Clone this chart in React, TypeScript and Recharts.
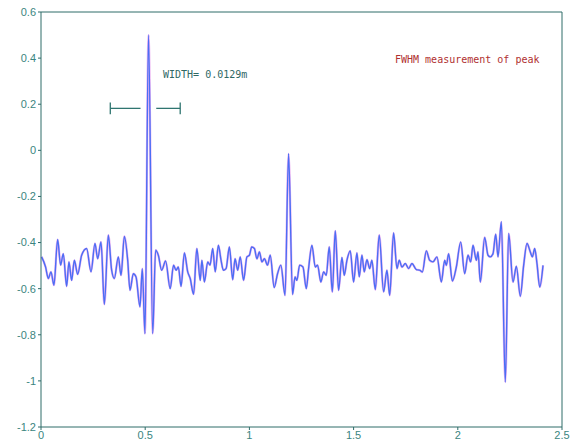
import React from 'react';
import { ComposedChart, Line, XAxis, YAxis, ReferenceLine } from 'recharts';

const xValues = [
  0.003, 0.022, 0.035, 0.048, 0.062, 0.080, 0.094, 0.107, 0.123, 0.134, 0.147, 0.160, 0.176, 0.195, 0.219, 0.240,
  0.259, 0.272, 0.288, 0.304, 0.323, 0.339, 0.352, 0.371, 0.384, 0.400, 0.416, 0.427, 0.443, 0.456, 0.475, 0.486,
  0.499, 0.516, 0.536, 0.550, 0.563, 0.579, 0.598, 0.620, 0.636, 0.648, 0.659, 0.672, 0.688, 0.704, 0.716, 0.732,
  0.748, 0.764, 0.772, 0.784, 0.800, 0.811, 0.824, 0.836, 0.851, 0.864, 0.875, 0.888, 0.904, 0.920, 0.931, 0.944,
  0.956, 0.972, 0.988, 1.000, 1.011, 1.024, 1.036, 1.048, 1.060, 1.072, 1.087, 1.100, 1.119, 1.135, 1.151, 1.171,
  1.188, 1.207, 1.219, 1.228, 1.241, 1.257, 1.273, 1.284, 1.300, 1.316, 1.327, 1.343, 1.356, 1.369, 1.383, 1.398,
  1.412, 1.428, 1.444, 1.455, 1.468, 1.484, 1.500, 1.516, 1.527, 1.540, 1.551, 1.564, 1.577, 1.588, 1.604, 1.623,
  1.644, 1.660, 1.673, 1.692, 1.708, 1.719, 1.732, 1.748, 1.764, 1.780, 1.801, 1.817, 1.830, 1.849, 1.865, 1.881,
  1.900, 1.921, 1.937, 1.945, 1.956, 1.974, 1.993, 2.014, 2.033, 2.049, 2.062, 2.073, 2.089, 2.097, 2.108, 2.129,
  2.145, 2.156, 2.169, 2.182, 2.193, 2.209, 2.228, 2.244, 2.265, 2.281, 2.300, 2.316, 2.332, 2.348, 2.358, 2.369,
  2.380, 2.393, 2.409,
];

const yValues = [
  -0.462, -0.506, -0.556, -0.527, -0.585, -0.387, -0.498, -0.448, -0.590, -0.484, -0.564, -0.477, -0.538, -0.455, -0.426, -0.527,
  -0.404, -0.470, -0.397, -0.668, -0.368, -0.520, -0.556, -0.462, -0.542, -0.373, -0.477, -0.607, -0.535, -0.549, -0.679, -0.513,
  -0.795, 0.500, -0.795, -0.433, -0.455, -0.520, -0.480, -0.600, -0.498, -0.520, -0.506, -0.590, -0.445, -0.527, -0.556, -0.624,
  -0.426, -0.564, -0.477, -0.571, -0.484, -0.498, -0.426, -0.527, -0.412, -0.477, -0.520, -0.513, -0.419, -0.561, -0.470, -0.520,
  -0.462, -0.564, -0.462, -0.455, -0.419, -0.426, -0.470, -0.441, -0.484, -0.470, -0.498, -0.455, -0.595, -0.535, -0.498, -0.629,
  -0.015, -0.625, -0.549, -0.564, -0.498, -0.506, -0.600, -0.513, -0.412, -0.506, -0.498, -0.571, -0.527, -0.542, -0.419, -0.614,
  -0.349, -0.607, -0.465, -0.542, -0.477, -0.436, -0.571, -0.445, -0.549, -0.455, -0.527, -0.474, -0.513, -0.477, -0.604, -0.368,
  -0.614, -0.520, -0.629, -0.358, -0.513, -0.477, -0.506, -0.491, -0.513, -0.491, -0.517, -0.520, -0.528, -0.436, -0.477, -0.484,
  -0.462, -0.571, -0.477, -0.499, -0.448, -0.567, -0.506, -0.397, -0.535, -0.455, -0.484, -0.412, -0.477, -0.441, -0.571, -0.378,
  -0.455, -0.462, -0.448, -0.364, -0.462, -0.310, -1.005, -0.361, -0.571, -0.503, -0.633, -0.499, -0.404, -0.441, -0.462, -0.426,
  -0.491, -0.593, -0.499,
];

const xTicks = [0, 0.5, 1, 1.5, 2, 2.5];
const yTicks = [-1.2, -1, -0.8, -0.6, -0.4, -0.2, 0, 0.2, 0.4, 0.6];
const xDomain: [number, number] = [0, 2.5];
const yDomain: [number, number] = [-1.2, 0.6];

// FWHM width marker (data coordinates)
const markerY = 0.182;
const markerCapHalf = 0.025;
const markerLeft = [0.3325, 0.4775];
const markerRight = [0.553, 0.668];

const widthLabel = 'WIDTH= 0.0129m';
const titleLabel = 'FWHM measurement of peak';

const data = xValues.map((x, i) => ({ x, y: yValues[i] }));

const AXIS = '#2e6c68';
const LABEL = '#3b8580';
const MARK = '#2f7570';

const fmt = (v: number) => String(Math.round(v * 10) / 10);

export default function App() {
  const tickStyle = { fill: LABEL, fontSize: 11, fontFamily: 'Liberation Sans, Arial, sans-serif' };
  return (
    <div style={{ position: 'absolute', left: 0, top: 0, width: 571, height: 441, background: '#fff' }}>
      <ComposedChart width={571} height={441} data={data} margin={{ top: 0, right: 0, left: 0, bottom: 0 }}>
        <XAxis
          xAxisId="b"
          dataKey="x"
          type="number"
          domain={xDomain}
          ticks={xTicks}
          tickFormatter={fmt}
          height={14}
          tickSize={3}
          tickMargin={1}
          stroke={AXIS}
          tick={tickStyle}
        />
        <XAxis
          xAxisId="t"
          orientation="top"
          dataKey="x"
          type="number"
          domain={xDomain}
          ticks={xTicks}
          height={12}
          tickSize={3}
          stroke={AXIS}
          tick={false}
        />
        <YAxis
          yAxisId="l"
          type="number"
          domain={yDomain}
          ticks={yTicks}
          tickFormatter={fmt}
          width={41}
          tickSize={3}
          tickMargin={2}
          stroke={AXIS}
          tick={tickStyle}
        />
        <YAxis
          yAxisId="r"
          orientation="right"
          type="number"
          domain={yDomain}
          ticks={yTicks}
          width={9}
          tickSize={3}
          stroke={AXIS}
          tick={false}
        />
        <Line
          xAxisId="b"
          yAxisId="l"
          dataKey="y"
          type="monotone"
          stroke="#e59ded"
          strokeWidth={2.3}
          strokeOpacity={0.8}
          dot={false}
          isAnimationActive={false}
        />
        <Line
          xAxisId="b"
          yAxisId="l"
          dataKey="y"
          type="monotone"
          stroke="#4a6ef5"
          strokeWidth={1.4}
          dot={false}
          isAnimationActive={false}
        />
        <ReferenceLine xAxisId="b" yAxisId="l" segment={[{ x: markerLeft[0], y: markerY }, { x: markerLeft[1], y: markerY }]} stroke={MARK} strokeWidth={1.3} />
        <ReferenceLine xAxisId="b" yAxisId="l" segment={[{ x: markerRight[0], y: markerY }, { x: markerRight[1], y: markerY }]} stroke={MARK} strokeWidth={1.3} />
        <ReferenceLine xAxisId="b" yAxisId="l" segment={[{ x: markerLeft[0], y: markerY - markerCapHalf }, { x: markerLeft[0], y: markerY + markerCapHalf }]} stroke={MARK} strokeWidth={1.3} />
        <ReferenceLine xAxisId="b" yAxisId="l" segment={[{ x: markerRight[1], y: markerY - markerCapHalf }, { x: markerRight[1], y: markerY + markerCapHalf }]} stroke={MARK} strokeWidth={1.3} />
      </ComposedChart>
      <div style={{ position: 'absolute', left: 163, top: 68, fontFamily: 'DejaVu Sans Mono, monospace', fontSize: 10, color: '#2f6864', whiteSpace: 'nowrap', lineHeight: '13px' }}>
        {widthLabel}
      </div>
      <div style={{ position: 'absolute', left: 395, top: 53, fontFamily: 'DejaVu Sans Mono, monospace', fontSize: 10, color: '#b03030', whiteSpace: 'nowrap', lineHeight: '13px' }}>
        {titleLabel}
      </div>
    </div>
  );
}
